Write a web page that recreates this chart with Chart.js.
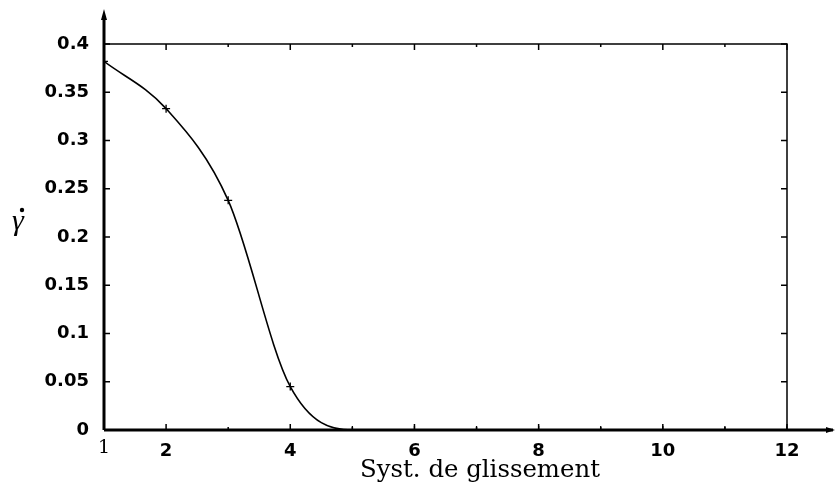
<!DOCTYPE html>
<html>
<head>
<meta charset="utf-8">
<script src="https://cdn.jsdelivr.net/npm/chart.js@4/dist/chart.umd.min.js"></script>
<style>
  html, body { margin: 0; padding: 0; background: #fff; }
  #wrap { width: 835px; height: 484px; }
</style>
</head>
<body>
<div id="wrap"><canvas id="chart-glissement" width="835" height="484"></canvas></div>
<script>
'use strict';
// slip systems and their shear rates
var systems = [1, 2, 3, 4, 5, 6, 7, 8, 9, 10, 11, 12];
var gammaDot = [0.382, 0.333, 0.238, 0.045, 0, 0, 0, 0, 0, 0, 0, 0];
var xTickValues = [1, 2, 4, 6, 8, 10, 12];
var xMinorValues = [3, 5, 7, 9, 11];
var yTickValues = [0, 0.05, 0.1, 0.15, 0.2, 0.25, 0.3, 0.35, 0.4];

var tickFont = { family: '"DejaVu Sans", Arial, sans-serif', size: 18, weight: 'bold' };
var serif = '"DejaVu Serif", "Liberation Serif", serif';

// inward ticks, frame, arrows and the axis titles
var framePlugin = {
  id: 'frame',
  afterDraw: function(chart) {
    var c = chart.ctx, a = chart.chartArea;
    var xs = chart.scales.x, ys = chart.scales.y;
    c.save();
    c.strokeStyle = '#000';
    c.fillStyle = '#000';

    // thin frame top and right
    c.lineWidth = 1.5;
    c.beginPath();
    c.moveTo(a.left, a.top); c.lineTo(a.right, a.top); c.lineTo(a.right, a.bottom);
    c.stroke();

    // ticks
    c.beginPath();
    yTickValues.forEach(function(v) {
      var py = ys.getPixelForValue(v);
      c.moveTo(a.left, py); c.lineTo(a.left + 6, py);
      c.moveTo(a.right, py); c.lineTo(a.right - 6, py);
    });
    xTickValues.forEach(function(v) {
      var px = xs.getPixelForValue(v);
      c.moveTo(px, a.bottom); c.lineTo(px, a.bottom - 6);
      c.moveTo(px, a.top); c.lineTo(px, a.top + 6);
    });
    xMinorValues.forEach(function(v) {
      var px = xs.getPixelForValue(v);
      c.moveTo(px, a.bottom); c.lineTo(px, a.bottom - 3);
      c.moveTo(px, a.top); c.lineTo(px, a.top + 3);
    });
    c.stroke();

    // thick axes with arrows
    c.lineWidth = 3;
    c.beginPath();
    c.moveTo(a.left, a.bottom); c.lineTo(833, a.bottom);
    c.moveTo(a.left, a.bottom); c.lineTo(a.left, 16);
    c.stroke();
    c.beginPath();
    c.moveTo(a.left, 9); c.lineTo(a.left - 3, 20); c.lineTo(a.left + 3, 20); c.closePath();
    c.fill();
    c.beginPath();
    c.moveTo(835, a.bottom); c.lineTo(826, a.bottom - 3); c.lineTo(826, a.bottom + 3); c.closePath();
    c.fill();

    // x title, sized to span about 240px
    var title = 'Syst. de glissement';
    c.font = '20px ' + serif;
    var size = 20 * 240 / c.measureText(title).width;
    c.font = size.toFixed(1) + 'px ' + serif;
    c.textAlign = 'center';
    c.textBaseline = 'alphabetic';
    c.fillText(title, 480, 477);

    // y title: gamma with a dot
    c.font = 'italic 30px "Liberation Serif", "Times New Roman", serif';
    c.fillText('\u03B3', 18, 230);
    c.beginPath();
    c.arc(22, 210, 2.2, 0, Math.PI * 2);
    c.fill();

    // the "1" under the origin is set in a serif face
    c.font = '19px ' + serif;
    c.textBaseline = 'top';
    c.fillText('1', xs.getPixelForValue(1), 439);
    c.restore();
  }
};

new Chart(document.getElementById('chart-glissement'), {
  type: 'line',
  data: {
    labels: systems,
    datasets: [{
      data: systems.map(function(s, i) { return { x: s, y: gammaDot[i] }; }),
      borderColor: '#000',
      borderWidth: 1.6,
      cubicInterpolationMode: 'monotone',
      pointStyle: 'cross',
      pointRadius: 4,
      pointBorderWidth: 1.3,
      pointBorderColor: '#000',
      fill: false
    }]
  },
  options: {
    responsive: false,
    animation: false,
    devicePixelRatio: 1,
    layout: { padding: { top: 44, right: 48, left: 0, bottom: 0 } },
    plugins: { legend: { display: false }, tooltip: { enabled: false } },
    scales: {
      x: {
        type: 'linear',
        min: 1,
        max: 12,
        afterBuildTicks: function(scale) {
          scale.ticks = xTickValues.map(function(v) { return { value: v }; });
        },
        afterFit: function(scale) { scale.height = 54; },
        grid: { display: false },
        border: { display: false },
        ticks: {
          color: '#000',
          font: tickFont,
          padding: 3,
          maxRotation: 0,
          autoSkip: false,
          callback: function(v) { return v === 1 ? '' : String(v); }
        }
      },
      y: {
        min: 0,
        max: 0.4,
        afterBuildTicks: function(scale) {
          scale.ticks = yTickValues.map(function(v) { return { value: v }; });
        },
        afterFit: function(scale) { scale.width = 104; },
        grid: { display: false },
        border: { display: false },
        ticks: {
          color: '#000',
          font: tickFont,
          padding: 7,
          callback: function(v) { return String(Math.round(v * 100) / 100); }
        }
      }
    }
  },
  plugins: [framePlugin]
});
</script>
</body>
</html>
